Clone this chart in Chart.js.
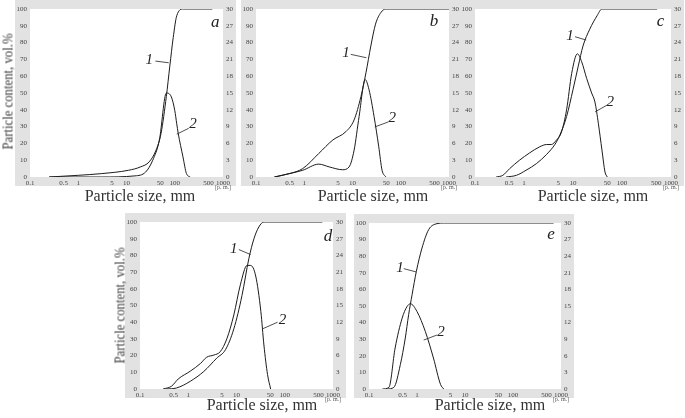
<!DOCTYPE html>
<html>
<head>
<meta charset="utf-8">
<script src="https://cdn.jsdelivr.net/npm/chart.js@4.4.0/dist/chart.umd.min.js"></script>
<style>
  body { margin: 0; background: #fff; width: 685px; height: 418px; position: relative; overflow: hidden; font-family: "Liberation Serif", serif; }
  canvas { position: absolute; }
  .xt { position: absolute; width: 160px; margin-left: -80px; text-align: center; font-size: 16px; color: #333; line-height: 16px; }
  .yt { position: absolute; width: 200px; margin-left: -100px; text-align: center; font-size: 15px; color: #3a3a3a; line-height: 15px; transform: rotate(-90deg) scaleX(0.85); }
</style>
</head>
<body>
<script>
// x axis ticks (mm, log scale)
const xTicks = [0.1, 0.5, 1, 5, 10, 50, 100, 500, 1000];

// a
const sizeA1 = [0.25, 1.0, 3, 11, 19.5, 29.5, 41, 52, 67, 79, 93, 110, 150, 600];
const cumA   = [0, 1, 2, 4, 6, 9, 16, 26, 48, 66, 83, 96, 100, 100];
const sizeA2 = [0.25, 3, 15, 25, 35, 48, 67, 85, 100, 110, 118, 148, 175, 210];
const distA  = [0, 0, 0.2, 0.9, 3, 6.6, 15, 14.3, 11.9, 9.5, 7.8, 3.6, 0.6, 0];

// b
const sizeB1 = [0.24, 0.49, 0.93, 2.0, 3.9, 7.3, 10.8, 15, 19, 24, 30, 39, 49, 1000];
const cumB   = [0, 2, 5, 14, 22, 27, 34, 48, 62, 78, 91, 98, 100, 100];
const sizeB2 = [0.24, 0.49, 0.93, 2.0, 3.3, 6.2, 8.5, 10.8, 13.7, 18.3, 22, 28, 35, 41, 49];
const distB  = [0, 0.6, 1.2, 2.3, 1.8, 1.3, 1.8, 4.8, 10.8, 17.4, 15.6, 10.8, 5.4, 1.2, 0];

// c
const sizeC1 = [0.43, 0.7, 1.1, 1.8, 2.9, 4.3, 5.4, 7.4, 10, 12.8, 16, 22, 31, 39, 520];
const cumC   = [0, 1, 4, 8, 13.5, 19.5, 25, 36, 52, 66, 78, 88, 96, 100, 100];
const sizeC2 = [0.27, 0.37, 0.51, 0.81, 1.3, 2.1, 2.9, 3.6, 4.6, 5.8, 7.4, 9.4, 12.3, 15, 19, 24, 28, 33, 39, 45, 50];
const distC  = [0, 0.3, 1.5, 3, 4.3, 5.4, 5.8, 5.8, 6.6, 8, 12, 18.5, 22, 20.6, 17.6, 15, 13.4, 9.5, 4.8, 0.9, 0];

// d
const sizeD1 = [0.35, 0.57, 1.1, 2.1, 3.9, 5.9, 8.8, 13, 18, 23, 29, 37, 600];
const cumD   = [0, 0.6, 4.6, 10.5, 18.5, 23.5, 36, 56, 78, 90, 97, 100, 100];
const sizeD2 = [0.3, 0.45, 0.62, 1.1, 1.8, 2.4, 3.4, 4.6, 6.3, 8.8, 12, 16.6, 19.6, 25, 32, 37, 44, 51];
const distD  = [0, 0.5, 1.8, 3.2, 4.6, 5.7, 6.1, 6.7, 9, 13.3, 18.7, 22.2, 22.2, 20.3, 13.9, 7.9, 2.6, 0];

// e
const sizeE1 = [0.24, 0.33, 0.45, 0.57, 0.67, 0.79, 0.97, 1.27, 1.75, 2.6, 3.6, 700];
const cumE   = [0, 1, 14.7, 30.7, 44.8, 56.8, 70.9, 84.9, 96, 99.6, 100, 100];
const sizeE2 = [0.19, 0.26, 0.35, 0.49, 0.62, 0.73, 1.0, 1.49, 2.2, 3.1, 3.6];
const distE  = [0, 0.3, 7.4, 12.8, 14.9, 15.4, 14, 10.4, 5.6, 0.8, 0];

const PL = 22, PT = 9, PR = 18, PB = 16;
const tickFont = { family: 'Liberation Serif', size: 7 };

function panel(box, s1, v1, s2, v2, marks) {
    const cv = document.createElement('canvas');
    const w = box.r - box.l + PL + PR, h = box.b - box.t + PT + PB;
    cv.width = w; cv.height = h;
    cv.style.left = (box.l - PL) + 'px';
    cv.style.top = (box.t - PT) + 'px';
    document.body.appendChild(cv);

    const frame = {
        id: 'frame',
        beforeDraw(chart) {
            const { ctx, chartArea: a } = chart;
            ctx.save();
            ctx.fillStyle = '#e2e2e2';
            ctx.fillRect(a.left - 15, a.top - 9, a.right - a.left + 28, a.bottom - a.top + 18);
            ctx.fillStyle = '#fff';
            ctx.fillRect(a.left, a.top, a.right - a.left, a.bottom - a.top);
            ctx.restore();
        },
        afterDraw(chart) {
            const { ctx, chartArea: a, scales: { x, y } } = chart;
            const px = p => [x.getPixelForValue(p[0]), y.getPixelForValue(p[1])];
            ctx.save();
            ctx.fillStyle = '#222';
            ctx.strokeStyle = '#222';
            ctx.lineWidth = 0.8;
            ctx.textAlign = 'center';
            ctx.textBaseline = 'middle';
            ctx.font = 'italic 17px "Liberation Serif"';
            ctx.fillText(marks.letter, ...px(marks.letterAt));
            ctx.font = 'italic 15px "Liberation Serif"';
            marks.notes.forEach(n => {
                ctx.fillText(n.text, ...px(n.at));
                ctx.beginPath();
                ctx.moveTo(...px(n.from));
                ctx.lineTo(...px(n.to));
                ctx.stroke();
            });
            ctx.fillStyle = '#555';
            ctx.font = '6px "Liberation Serif"';
            ctx.fillText('[p. m.]', x.getPixelForValue(1000), a.bottom + 10);
            ctx.restore();
        }
    };

    const line = (sx, sv, axis) => ({
        data: sx.map((v, i) => ({ x: v, y: sv[i] })),
        yAxisID: axis,
        borderColor: '#1c1c1c',
        borderWidth: 1,
        pointRadius: 0,
        fill: false,
        cubicInterpolationMode: 'monotone'
    });

    const noGrid = { display: false, drawTicks: false, tickLength: 0 };

    new Chart(cv, {
        type: 'line',
        data: { datasets: [line(s1, v1, 'y'), line(s2, v2, 'y1')] },
        options: {
            responsive: false,
            animation: false,
            devicePixelRatio: 1,
            layout: { padding: { top: PT, left: 0, right: 0, bottom: 0 } },
            plugins: { legend: { display: false }, tooltip: { enabled: false } },
            scales: {
                x: {
                    type: 'logarithmic', min: 0.1, max: 1000,
                    grid: noGrid, border: { display: false },
                    afterBuildTicks: s => { s.ticks = xTicks.map(v => ({ value: v })); },
                    afterFit: s => { s.height = PB; },
                    ticks: { autoSkip: false, maxRotation: 0, padding: 2, color: '#444', font: tickFont, callback: v => String(v) }
                },
                y: {
                    position: 'left', min: 0, max: 100,
                    grid: noGrid, border: { display: false },
                    afterFit: s => { s.width = PL; },
                    ticks: { stepSize: 10, padding: 3, color: '#444', font: tickFont }
                },
                y1: {
                    position: 'right', min: 0, max: 30,
                    grid: noGrid, border: { display: false },
                    afterFit: s => { s.width = PR; },
                    ticks: { stepSize: 3, padding: 3, color: '#444', font: tickFont }
                }
            }
        },
        plugins: [frame]
    });
}

panel({ l: 30, t: 9, r: 223, b: 177 }, sizeA1, cumA, sizeA2, distA, {
    letter: 'a', letterAt: [690, 92],
    notes: [
        { text: '1', at: [29.5, 69.6], from: [39.7, 69], to: [75, 68] },
        { text: '2', at: [240, 31.4], from: [195, 29], to: [110, 25.5] }
    ]
});
panel({ l: 256, t: 9, r: 449, b: 177 }, sizeB1, cumB, sizeB2, distB, {
    letter: 'b', letterAt: [490, 92.4],
    notes: [
        { text: '1', at: [7.3, 73.6], from: [9.2, 73], to: [19.4, 71] },
        { text: '2', at: [67, 34.8], from: [55.6, 32.8], to: [29, 29.8] }
    ]
});
panel({ l: 475, t: 9, r: 671, b: 177 }, sizeC1, cumC, sizeC2, distC, {
    letter: 'c', letterAt: [614, 92.4],
    notes: [
        { text: '1', at: [8.7, 84], from: [11, 83.5], to: [18.6, 81.5] },
        { text: '2', at: [57.5, 44.7], from: [49, 42.7], to: [28.3, 38.8] }
    ]
});
panel({ l: 140, t: 222, r: 333, b: 389 }, sizeD1, cumD, sizeD2, distD, {
    letter: 'd', letterAt: [790, 91],
    notes: [
        { text: '1', at: [8.8, 84], from: [11.2, 83.5], to: [19.6, 80.5] },
        { text: '2', at: [90, 41.4], from: [71, 40], to: [34.5, 36] }
    ]
});
panel({ l: 369, t: 223, r: 561, b: 389 }, sizeE1, cumE, sizeE2, distE, {
    letter: 'e', letterAt: [620, 93],
    notes: [
        { text: '1', at: [0.44, 72.9], from: [0.53, 72.5], to: [0.97, 70.5] },
        { text: '2', at: [3.16, 34.5], from: [2.6, 32.5], to: [1.38, 29.5] }
    ]
});
</script>
<div class="xt" style="left:140px; top:188px;">Particle size, mm</div>
<div class="xt" style="left:373px; top:188px;">Particle size, mm</div>
<div class="xt" style="left:593px; top:188px;">Particle size, mm</div>
<div class="xt" style="left:262px; top:397px;">Particle size, mm</div>
<div class="xt" style="left:490px; top:397px;">Particle size, mm</div>
<div class="yt" style="left:8px; top:84px;">Particle content, vol.%</div>
<div class="yt" style="left:120px; top:298px;">Particle content, vol.%</div>
</body>
</html>
